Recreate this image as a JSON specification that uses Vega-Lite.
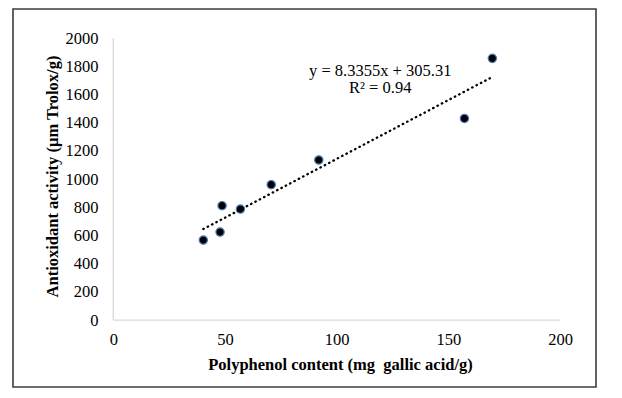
{
  "$schema": "https://vega.github.io/schema/vega-lite/v6.json",
  "width": 583,
  "height": 378,
  "autosize": {"type": "none"},
  "padding": {"left": 13, "top": 9, "right": 26, "bottom": 11},
  "background": "white",
  "config": {
    "font": "Liberation Serif",
    "view": {"stroke": "#3c3c3c", "strokeWidth": 1.6},
    "axis": {
      "grid": false,
      "domain": false,
      "ticks": false,
      "tickSize": 0,
      "labelPadding": 0,
      "labelColor": "#000000",
      "labelFont": "Liberation Serif",
      "labelFontSize": 16.5,
      "titleFont": "Liberation Serif",
      "titleFontSize": 16.5,
      "titleFontWeight": "bold",
      "titleColor": "#000000"
    }
  },
  "layer": [
    {
      "data": {"values": [
        {"polyphenol": 40.3, "antioxidant": 567},
        {"polyphenol": 47.8, "antioxidant": 624},
        {"polyphenol": 48.7, "antioxidant": 811},
        {"polyphenol": 56.9, "antioxidant": 787},
        {"polyphenol": 70.7, "antioxidant": 960},
        {"polyphenol": 92.0, "antioxidant": 1135},
        {"polyphenol": 157.2, "antioxidant": 1430},
        {"polyphenol": 169.7, "antioxidant": 1856}
      ]},
      "mark": {"type": "point", "filled": true, "size": 70, "fill": "#000000", "stroke": "#4f81bd", "strokeWidth": 1.2, "opacity": 1},
      "encoding": {
        "x": {"field": "polyphenol", "type": "quantitative", "title": "Polyphenol content (mg\u00a0 gallic acid/g)",
              "scale": {"domain": [-44.9, 216.1], "nice": false, "zero": false},
              "axis": {"values": [0, 50, 100, 150, 200], "format": "d", "labelFont": "Liberation Serif", "labelFontSize": 16.5,
                       "labelOverlap": false, "labelSeparation": 0, "labelFlush": false, "labelBound": false,
                       "offset": -56, "titlePadding": 9, "titleX": 327}},
        "y": {"field": "antioxidant", "type": "quantitative", "title": "Antioxidant activity (µm Trolox/g)",
              "scale": {"domain": [-475, 2206], "nice": false, "zero": false},
              "axis": {"values": [0, 200, 400, 600, 800, 1000, 1200, 1400, 1600, 1800, 2000], "format": "d", "tickCount": 11,
                       "labelFont": "Liberation Serif", "labelFontSize": 16.5, "labelOverlap": false, "labelSeparation": 0, "labelFlush": false, "labelBound": false,
                       "offset": -85, "titleX": -38, "titleY": 167}}
      }
    },
    {
      "data": {"values": [{}]},
      "mark": {"type": "rule", "color": "#d9d9d9", "strokeWidth": 1.3},
      "encoding": {
        "x": {"datum": 0, "type": "quantitative"},
        "y": {"datum": 0, "type": "quantitative"},
        "y2": {"datum": 2000}
      }
    },
    {
      "data": {"values": [{}]},
      "mark": {"type": "rule", "color": "#d9d9d9", "strokeWidth": 1.3},
      "encoding": {
        "x": {"datum": 0, "type": "quantitative"},
        "x2": {"datum": 200},
        "y": {"datum": 0, "type": "quantitative"}
      }
    },
    {
      "data": {"values": [
        {"polyphenol": 40.3, "antioxidant": 567},
        {"polyphenol": 47.8, "antioxidant": 624},
        {"polyphenol": 48.7, "antioxidant": 811},
        {"polyphenol": 56.9, "antioxidant": 787},
        {"polyphenol": 70.7, "antioxidant": 960},
        {"polyphenol": 92.0, "antioxidant": 1135},
        {"polyphenol": 157.2, "antioxidant": 1430},
        {"polyphenol": 169.7, "antioxidant": 1856}
      ]},
      "transform": [{"regression": "antioxidant", "on": "polyphenol", "method": "linear"}],
      "mark": {"type": "line", "color": "#000000", "strokeWidth": 2.3, "strokeCap": "round", "strokeDash": [0.5, 4.4]},
      "encoding": {
        "x": {"field": "polyphenol", "type": "quantitative"},
        "y": {"field": "antioxidant", "type": "quantitative"}
      }
    },
    {
      "data": {"values": [{"eq": "y = 8.3355x + 305.31\nR² = 0.94"}]},
      "mark": {"type": "text", "align": "center", "baseline": "middle", "lineBreak": "\n", "lineHeight": 16.5, "fontSize": 16.5, "font": "Liberation Serif", "color": "#000000"},
      "encoding": {
        "text": {"field": "eq"},
        "x": {"datum": 119.5, "type": "quantitative"},
        "y": {"datum": 1765, "type": "quantitative"}
      }
    }
  ]
}
